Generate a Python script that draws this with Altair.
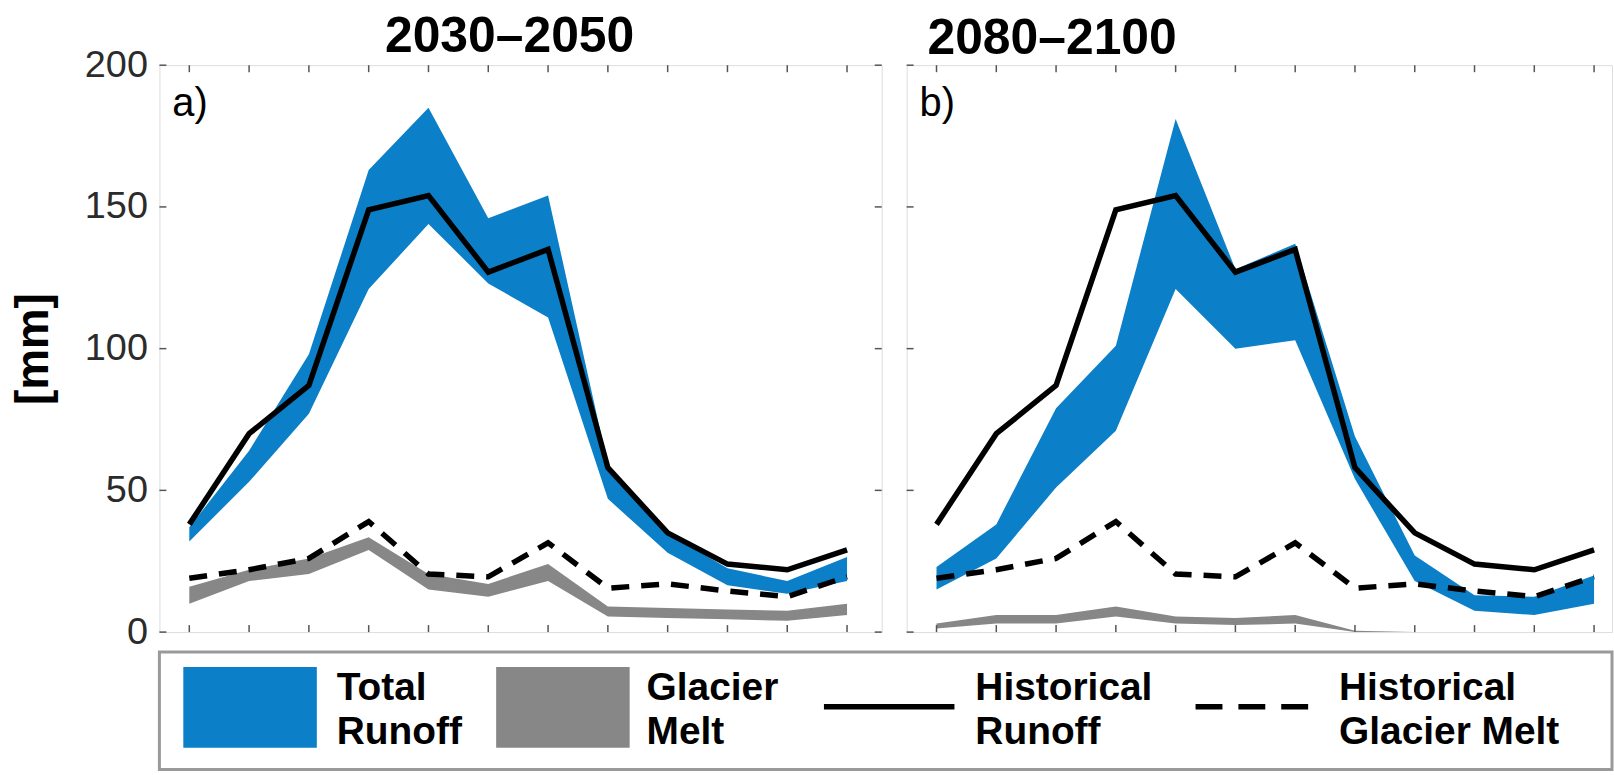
import altair as alt
import pandas as pd

# ---------------- data ----------------
months = list(range(1, 13))
y_tick_values = [0, 50, 100, 150, 200]

hist_runoff = [38, 70, 87, 149, 154, 127, 135, 58, 35, 24, 22, 29]
hist_glacier = [19, 22, 26, 39, 20.5, 19.5, 31.5, 15.5, 17, 14.5, 12.5, 19.5]

a_total_low = [32, 53, 77, 121, 144, 123, 111, 47, 28, 16.5, 13.5, 18]
a_total_high = [37, 64, 98, 163, 185, 146, 154, 59, 35, 22.5, 18, 26.5]
a_glacier_low = [10, 18, 20.5, 29, 15, 12.5, 18, 5.5, 5, 4.5, 4, 6]
a_glacier_high = [16, 22, 26, 33.5, 20.5, 17, 24, 9, 8.5, 8, 7.5, 10]

b_total_low = [15, 26, 51, 71, 121, 100, 103, 54, 18, 7.5, 6, 10]
b_total_high = [23, 38, 79, 101, 181, 128, 137, 69, 27, 13, 12.5, 20]
b_glacier_low = [1.3, 3, 3, 5.5, 3, 2.5, 3, 0, 0, 0, 0, 0]
b_glacier_high = [3, 6, 6, 9, 5.5, 5, 6, 0.5, 0, 0, 0, 0]

panel_titles = ["2030\u20132050", "2080\u20132100"]
panel_labels = ["a)", "b)"]
y_title = "[mm]"

legend_labels = ["Total\nRunoff", "Glacier\nMelt", "Historical\nRunoff", "Historical\nGlacier Melt"]

# ---------------- styles ----------------
FONT = "Liberation Sans"
BLUE = "#0b7fc8"
GRAY = "#878787"
FRAME = "#8f8f8f"
TICK = "#555555"
H = 569


def panel(total_low, total_high, gl_low, gl_high, title, label, width, xmax,
          show_y, right_ticks, title_dx, title_offset):
    df = pd.DataFrame({
        "month": months,
        "tlow": total_low, "thigh": total_high,
        "glow": gl_low, "ghigh": gl_high,
        "hrun": hist_runoff, "hgl": hist_glacier,
    })
    xs = alt.Scale(domain=[0.5, xmax], nice=False, zero=False)
    ys = alt.Scale(domain=[0, 200], nice=False)
    if show_y:
        yaxis = alt.Axis(values=y_tick_values, title=y_title, titleFontSize=46,
                         titleFont=FONT, titleFontWeight="bold", titleColor="black",
                         titlePadding=27, labelFont=FONT, labelFontSize=38,
                         labelColor="#2b2b2b", labelPadding=12, ticks=False,
                         tickSize=0, domain=False, grid=False)
    else:
        yaxis = None

    def X(f):
        return alt.X(f, type="quantitative", scale=xs, axis=None)

    def Y(f):
        return alt.Y(f, type="quantitative", scale=ys, axis=yaxis, title=y_title)

    base = alt.Chart(df)
    blue = base.mark_area(color=BLUE, opacity=1).encode(
        x=X("month"), y=Y("tlow"), y2="thigh")
    gray = base.mark_area(color=GRAY, opacity=1).encode(
        x=X("month"), y=Y("glow"), y2="ghigh")
    solid = base.mark_line(color="black", strokeWidth=5.5, strokeJoin="miter").encode(
        x=X("month"), y=Y("hrun"))
    dashed = base.mark_line(color="black", strokeWidth=5.5, strokeDash=[18, 12]).encode(
        x=X("month"), y=Y("hgl"))

    yt = alt.Chart(pd.DataFrame({"v": y_tick_values}))
    xt = alt.Chart(pd.DataFrame({"m": months}))
    ticks = [
        yt.mark_rule(color=TICK, strokeWidth=1.5).encode(
            y=Y("v"), x=alt.value(0), x2=alt.value(7)),
        xt.mark_rule(color=TICK, strokeWidth=1.5).encode(
            x=X("m"), y=alt.value(H - 7), y2=alt.value(H)),
        xt.mark_rule(color=TICK, strokeWidth=1.5).encode(
            x=X("m"), y=alt.value(0), y2=alt.value(7)),
    ]
    if right_ticks:
        ticks.append(yt.mark_rule(color=TICK, strokeWidth=1.5).encode(
            y=Y("v"), x=alt.value(width - 7), x2=alt.value(width)))

    lab = alt.Chart(pd.DataFrame({"t": [label]})).mark_text(
        font=FONT, fontSize=40, align="left", baseline="alphabetic", color="black"
    ).encode(x=alt.value(13), y=alt.value(51), text="t:N")

    return alt.layer(blue, gray, solid, dashed, *ticks, lab).properties(
        width=width, height=H,
        title=alt.TitleParams(title, fontSize=50, fontWeight="bold", font=FONT,
                              color="black", anchor="middle", frame="group",
                              dx=title_dx, offset=title_offset, baseline="alphabetic"),
    )


pa = panel(a_total_low, a_total_high, a_glacier_low, a_glacier_high,
           panel_titles[0], panel_labels[0], 725, 12.58, True, True, -11, -56)
pb = panel(b_total_low, b_total_high, b_glacier_low, b_glacier_high,
           panel_titles[1], panel_labels[1], 708, 12.3, False, False, -208, -40)

# ---------------- custom legend ----------------
LW, LH = 1458, 118
lbase = alt.Chart(pd.DataFrame({"i": [0]}))
swatch_x = [(24, 158), (338, 472)]
swatch_colors = [BLUE, GRAY]
line_x = [(667, 798), (1040, 1158)]
line_dash = [[1, 0], [27, 16]]
text_x = [178, 489, 819, 1184]

leg_layers = []
for (x1, x2), c in zip(swatch_x, swatch_colors):
    leg_layers.append(lbase.mark_rect(color=c).encode(
        x=alt.value(x1), x2=alt.value(x2), y=alt.value(15), y2=alt.value(96)))
for (x1, x2), d in zip(line_x, line_dash):
    leg_layers.append(lbase.mark_rule(color="black", strokeWidth=5.5, strokeDash=d).encode(
        x=alt.value(x1), x2=alt.value(x2), y=alt.value(55)))
for tx, txt in zip(text_x, legend_labels):
    leg_layers.append(lbase.mark_text(
        font=FONT, fontSize=39, fontWeight="bold", align="left", baseline="alphabetic",
        lineBreak="\n", lineHeight=44, color="black"
    ).encode(x=alt.value(tx), y=alt.value(48), text=alt.value(txt)))

legend = alt.layer(*leg_layers).properties(
    width=LW, height=LH,
    view=alt.ViewBackground(stroke="#9a9a9a", strokeWidth=3),
)

top = alt.hconcat(pa, pb, spacing=21)
chart = alt.vconcat(top, legend, spacing=-18).properties(
    padding={"left": 10, "top": 10, "right": 0, "bottom": 0}
).configure_view(stroke=FRAME, strokeWidth=2).configure(background="white")

chart.save("out.html", embed_options={"renderer": "svg", "actions": False})
